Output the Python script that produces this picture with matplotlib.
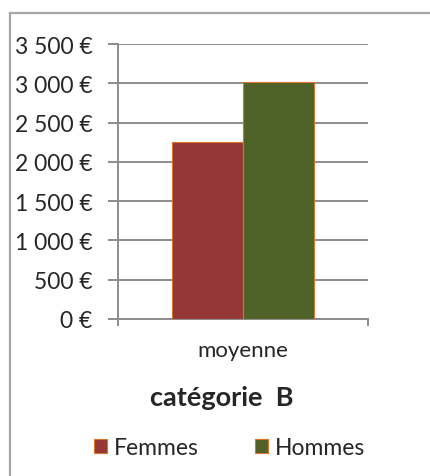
import matplotlib
matplotlib.use("Agg")
import matplotlib.pyplot as plt
from matplotlib.lines import Line2D
from matplotlib.patches import Patch
from matplotlib.ticker import FuncFormatter

plt.rcParams['font.family'] = ['Lato', 'DejaVu Sans']

categories = ["moyenne"]
series_names = ["Femmes", "Hommes"]
femmes = [2250]
hommes = [3020]
yticks = [0, 500, 1000, 1500, 2000, 2500, 3000, 3500]
title = "catégorie  B"

W, H = 430, 477
fig = plt.figure(figsize=(W / 100, H / 100), dpi=100)

# outer frame (partially visible)
fig.add_artist(Line2D([10 / W, 1], [1 - 14 / H, 1 - 14 / H], transform=fig.transFigure,
                      color="#a6a6a6", lw=1.6))
fig.add_artist(Line2D([10 / W, 10 / W], [0, 1 - 14 / H], transform=fig.transFigure,
                      color="#a6a6a6", lw=1.6))

ax = fig.add_axes([118 / W, 1 - 320 / H, 250 / W, 275 / H])

grid_c = "#8c8c8c"
txt_c = "#262626"
bw = 0.285
x = 0
ax.bar(x - bw / 2, femmes, width=bw, color="#953735", edgecolor="#d9742b", linewidth=0.8,
       label=series_names[0], zorder=3)
ax.bar(x + bw / 2, hommes, width=bw, color="#4f6228", edgecolor="#d9742b", linewidth=0.8,
       label=series_names[1], zorder=3)

ax.set_xlim(-0.5, 0.5)
ax.set_ylim(0, 3500)
ax.set_yticks(yticks)
ax.yaxis.set_major_formatter(FuncFormatter(lambda v, p: f"{int(v):,}".replace(",", " ") + " €"))
ax.grid(axis="y", color=grid_c, linewidth=1.4, zorder=0)
ax.tick_params(axis="y", length=7.2, width=1.4, color=grid_c, pad=11, labelsize=16.5, labelcolor=txt_c)

ax.set_xticks([0])
ax.set_xticklabels(categories)
ax.set_xticks([-0.5, 0.5], minor=True)
ax.tick_params(axis="x", which="major", length=0, pad=15, labelsize=16, labelcolor=txt_c)
ax.tick_params(axis="x", which="minor", length=5, width=1.4, color=grid_c)

for s in ["top", "right"]:
    ax.spines[s].set_visible(False)
ax.spines["left"].set_color(grid_c)
ax.spines["left"].set_linewidth(1.4)
ax.spines["bottom"].set_color(grid_c)
ax.spines["bottom"].set_linewidth(1.4)

fig.text(222 / W, 1 - 398 / H, title, ha="center", va="center", fontsize=19.5,
         fontweight="bold", color=txt_c)

handles = [Patch(facecolor="#953735", edgecolor="#d9742b", linewidth=0.8),
           Patch(facecolor="#4f6228", edgecolor="#d9742b", linewidth=0.8)]
fig.legend(handles, series_names, loc="center", bbox_to_anchor=(230 / W, 1 - 449 / H),
           ncol=2, frameon=False, fontsize=16.5, handlelength=0.57, handleheight=0.57,
           handletextpad=0.3, columnspacing=2.45, labelcolor=txt_c)

fig.savefig("out.png", dpi=100)
